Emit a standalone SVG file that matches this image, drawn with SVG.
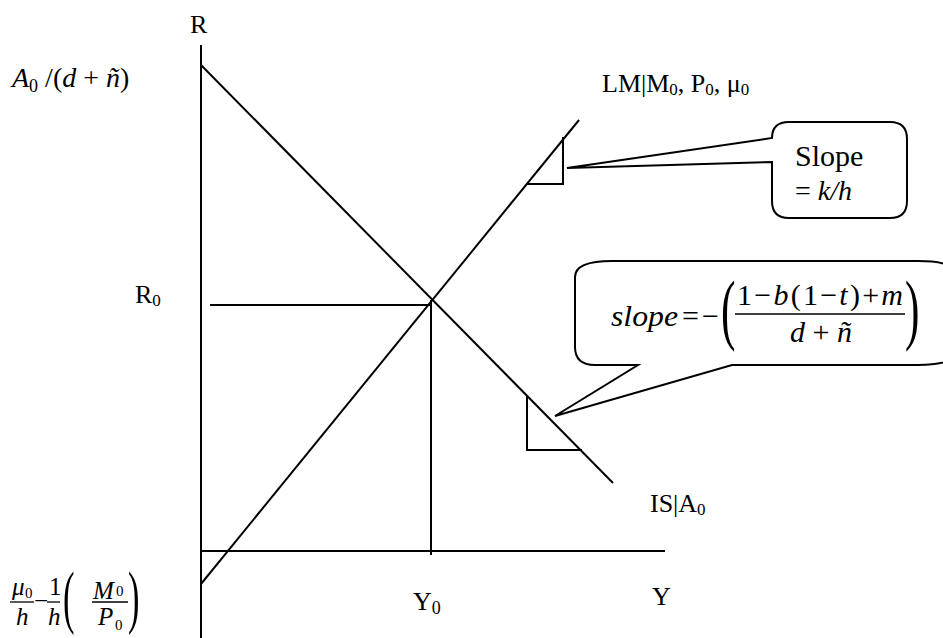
<svg xmlns="http://www.w3.org/2000/svg" width="943" height="638" viewBox="0 0 943 638">
<style>
  .ln { stroke: #000; stroke-width: 2; fill: none; stroke-linecap: butt; }
  .co { stroke: #000; stroke-width: 2; fill: #fff; stroke-linejoin: miter; }
  .t { font-family: 'Liberation Serif', 'Times New Roman', serif; fill: #000; }
  .it { font-style: italic; }
  .bar { stroke: #000; stroke-width: 1.3; }
</style>
<rect width="943" height="638" fill="#fff"/>

<g id="connectors">
  <line id="y-axis" class="ln" x1="201" y1="45" x2="201" y2="638"/>
  <line id="x-axis" class="ln" x1="200" y1="551" x2="665" y2="551"/>
  <line id="IS-curve" class="ln" x1="201" y1="65" x2="613" y2="483"/>
  <line id="LM-curve" class="ln" x1="201" y1="584" x2="579" y2="120"/>
  <line id="R0-guide" class="ln" x1="210" y1="305" x2="431" y2="305"/>
  <line id="Y0-guide" class="ln" x1="431" y1="300" x2="431" y2="555"/>
  <polyline id="LM-triangle" class="ln" points="563,137 563,184 527,184"/>
  <polyline id="IS-triangle" class="ln" points="527,395 527,450 582,450"/>
</g>

<g id="callout-LM">
  <path class="co" d="M789 122 L890 122 Q907 122 907 139 L907 201 Q907 218 890 218 L789 218 Q772 218 772 201 L772 162 L567 168 L772 138 Q772 122 789 122 Z"/>
  <text class="t" x="795" y="166" font-size="30">Slope</text>
  <text class="t" x="795" y="200" font-size="28">= <tspan class="it">k/h</tspan></text>
</g>

<g id="callout-IS">
  <path class="co" d="M612 261 L918 261 Q958 261 958 277 L958 349 Q958 365 918 365 L732 365 L555 416 L638 365 L595 365 Q575 365 575 347 L575 277 Q575 261 612 261 Z"/>
  <text class="t it" x="611" y="326" font-size="30" textLength="67" lengthAdjust="spacingAndGlyphs">slope</text>
  <text class="t" x="682" y="326" font-size="30">=</text>
  <text class="t" x="702" y="326" font-size="30">−</text>
  <text class="t" transform="translate(721,335) scale(0.55,1)" font-size="79">(</text>
  <text class="t" x="737" y="305" font-size="30" textLength="166" lengthAdjust="spacing">1−<tspan class="it">b</tspan>(1−<tspan class="it">t</tspan>)+<tspan class="it">m</tspan></text>
  <line class="bar" x1="735" y1="314" x2="905" y2="314"/>
  <text class="t" x="790" y="342" font-size="30"><tspan class="it">d</tspan> + <tspan class="it">ñ</tspan></text>
  <text class="t" transform="translate(905,335) scale(0.55,1)" font-size="79">)</text>
</g>

<g id="labels">
  <text class="t" x="190" y="33" font-size="26">R</text>
  <text class="t" x="12" y="87" font-size="28"><tspan class="it">A</tspan><tspan font-size="18" dy="5">0</tspan><tspan dy="-5"> /(</tspan><tspan class="it">d</tspan> + <tspan class="it">ñ</tspan>)</text>
  <text class="t" x="602" y="92" font-size="26">LM|M<tspan font-size="17" dy="3">0</tspan><tspan dy="-3">, P</tspan><tspan font-size="17" dy="3">0</tspan><tspan dy="-3">, μ</tspan><tspan font-size="17" dy="3">0</tspan></text>
  <text class="t" x="135" y="303" font-size="26">R<tspan font-size="17" dy="3">0</tspan></text>
  <text class="t" x="650" y="512" font-size="26">IS|A<tspan font-size="17" dy="3">0</tspan></text>
  <text class="t" x="413" y="610" font-size="26">Y<tspan font-size="18" dy="4">0</tspan></text>
  <text class="t" x="652" y="605" font-size="26">Y</text>
</g>

<g id="intercept-label">
  <text class="t it" x="12" y="595" font-size="25">μ</text>
  <text class="t" x="25" y="598" font-size="15">0</text>
  <line class="bar" x1="10" y1="602" x2="34" y2="602"/>
  <text class="t it" x="16" y="625" font-size="25">h</text>
  <text class="t" x="34" y="609" font-size="25">−</text>
  <text class="t" x="49" y="595" font-size="25">1</text>
  <line class="bar" x1="47" y1="602" x2="60" y2="602"/>
  <text class="t it" x="48" y="625" font-size="25">h</text>
  <text class="t" transform="translate(63,620) scale(0.5,1)" font-size="69">(</text>
  <text class="t it" x="93" y="599" font-size="25">M</text>
  <text class="t" x="116" y="596" font-size="15">0</text>
  <line class="bar" x1="92" y1="602" x2="128" y2="602"/>
  <text class="t it" x="98" y="625" font-size="25">P</text>
  <text class="t" x="115" y="630" font-size="15">0</text>
  <text class="t" transform="translate(128,620) scale(0.5,1)" font-size="69">)</text>
</g>
</svg>
